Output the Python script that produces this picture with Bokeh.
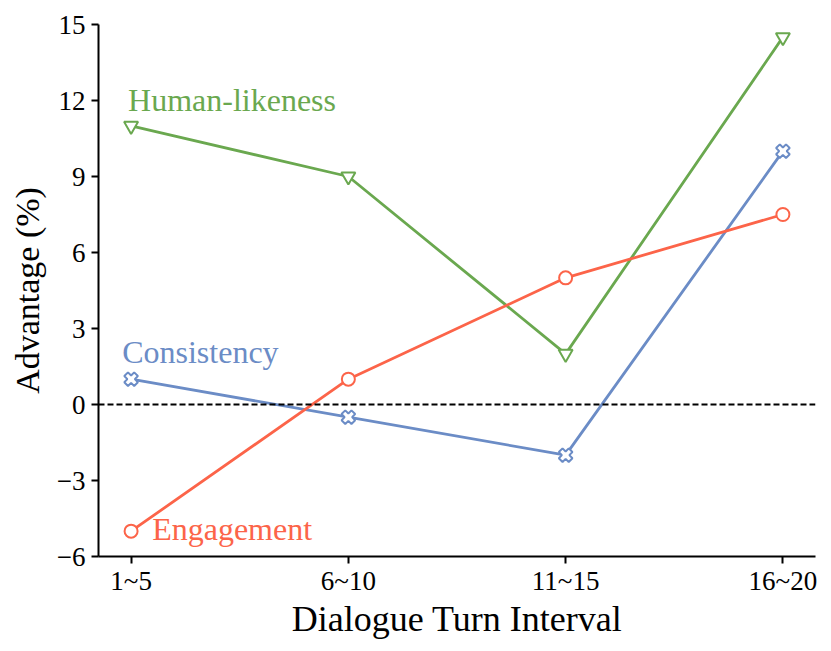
import math
from bokeh.plotting import figure
from bokeh.models import FixedTicker, Range1d, Span
from bokeh.core.properties import value
from bokeh.embed import file_html
from bokeh.resources import INLINE

categories = ["1~5", "6~10", "11~15", "16~20"]
human_likeness = [11.0, 9.0, 2.0, 14.5]
consistency = [1.0, -0.5, -2.0, 10.0]
engagement = [-5.0, 1.0, 5.0, 7.5]
y_ticks = [-6, -3, 0, 3, 6, 9, 12, 15]

GREEN = "#6aa84f"
BLUE = "#6b8cc6"
RED = "#fc6449"
FONT = "Liberation Serif"

xs = list(range(len(categories)))

p = figure(width=823, height=643, output_backend="svg", toolbar_location=None,
           x_range=Range1d(-0.15, 3.15), y_range=Range1d(-6, 15),
           min_border_left=98, min_border_right=8, min_border_top=24, min_border_bottom=87)
p.outline_line_color = None
p.grid.visible = False
p.background_fill_color = "white"

p.xaxis.ticker = FixedTicker(ticks=xs)
p.xaxis.major_label_overrides = {i: c for i, c in enumerate(categories)}
p.yaxis.ticker = FixedTicker(ticks=y_ticks)
p.yaxis.major_label_overrides = {t: (("\u2212" + str(-t)) if t < 0 else str(t)) for t in y_ticks}
for ax in (p.xaxis[0], p.yaxis[0]):
    ax.axis_line_width = 2
    ax.axis_line_color = "black"
    ax.major_tick_line_width = 2
    ax.major_tick_out = 7
    ax.major_tick_in = 0
    ax.minor_tick_line_color = None
    ax.major_label_text_font = FONT
    ax.major_label_text_font_size = "27px"
    ax.major_label_text_color = "black"
    ax.axis_label_text_font = FONT
    ax.axis_label_text_font_style = "normal"
    ax.axis_label_text_color = "black"
p.xaxis.axis_label = "Dialogue Turn Interval"
p.yaxis.axis_label = "Advantage (%)"
p.xaxis.axis_label_text_font_size = "36px"
p.yaxis.axis_label_text_font_size = "34px"
p.xaxis.major_label_standoff = 2
p.yaxis.major_label_standoff = 6
p.xaxis.axis_label_standoff = 0
p.yaxis.axis_label_standoff = 8

p.add_layout(Span(location=0, dimension="width", line_color="black",
                  line_width=1.8, line_dash="6 3"))

p.line(xs, human_likeness, line_color=GREEN, line_width=2.8)
p.scatter(xs, human_likeness, marker="inverted_triangle", size=14,
          line_color=GREEN, fill_color="white", line_width=2)

p.line(xs, consistency, line_color=BLUE, line_width=2.8)
p.scatter(xs, consistency, marker="plus", size=14, angle=math.pi / 4,
          line_color=BLUE, fill_color="white", line_width=2)

p.line(xs, engagement, line_color=RED, line_width=2.8)
p.scatter(xs, engagement, marker="circle", size=13,
          line_color=RED, fill_color="white", line_width=2)

p.text(x=[-0.014], y=[12.02], text=["Human-likeness"], text_color=GREEN,
       text_font=value(FONT), text_font_size="32px", text_baseline="alphabetic")
p.text(x=[-0.041], y=[2.08], text=["Consistency"], text_color=BLUE,
       text_font=value(FONT), text_font_size="32px", text_baseline="alphabetic")
p.text(x=[0.097], y=[-4.92], text=["Engagement"], text_color=RED,
       text_font=value(FONT), text_font_size="32px", text_baseline="alphabetic")

open("out.html", "w").write(file_html(p, INLINE))
